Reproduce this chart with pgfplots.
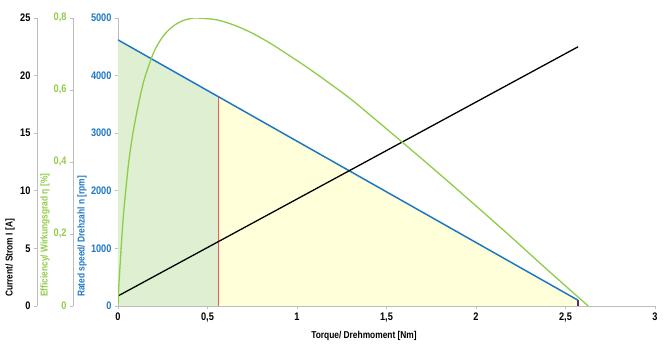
\documentclass[border=0pt]{standalone}
\usepackage{pgfplots}
\pgfplotsset{compat=1.18}
\usepackage{fontspec}
\setmainfont{Liberation Sans}[FakeStretch=0.84, Ligatures={NoCommon}]
\definecolor{spd}{HTML}{1E78C2}
\definecolor{effc}{HTML}{8FCC47}
\definecolor{axg}{HTML}{BDBDBD}
\definecolor{fillg}{HTML}{DFF0D2}
\definecolor{filly}{HTML}{FFFFDA}
\definecolor{redl}{HTML}{F05A50}
\definecolor{endl}{HTML}{5A2A6A}
\newcommand{\tickfont}{\fontsize{11}{13}\selectfont\bfseries}
\newcommand{\labfont}{\fontsize{10}{12}\selectfont\bfseries}
\pgfplotsset{
  /pgf/number format/assume math mode=true,
  /pgf/number format/use comma,
  /pgf/number format/1000 sep={},
  base/.style={scale only axis, width=537bp, height=288bp, anchor=origin, at={(0,0)}, xmin=0, xmax=3},
  yax/.style={scale only axis, width=1bp, height=288bp, anchor=origin, xmin=0, xmax=1,
    axis x line=none, axis y line*=left, axis line style={-, axg, line width=1pt},
    tick align=outside, major tick length=3bp, tick style={axg, line width=0.8pt},
    yticklabel style={font=\tickfont}},
}
\begin{document}
\begin{tikzpicture}
\path[use as bounding box] (-118bp,-41bp) rectangle (549bp,306bp);
% current axis (dummy)
\begin{axis}[yax, at={(-81bp,0)}, ymin=0, ymax=25, ytick={0,5,...,25}, yticklabel style={text=black}]
\end{axis}
% efficiency axis (dummy)
\begin{axis}[yax, at={(-45bp,0)}, ymin=0, ymax=0.8, ytick={0,0.2,0.4,0.6,0.8},
  yticklabel style={text=effc, /pgf/number format/fixed, /pgf/number format/precision=1}]
\end{axis}
% main axis: speed
\begin{axis}[base, ymin=0, ymax=5000,
  axis x line*=bottom, axis y line*=left, axis line style={-, axg, line width=1pt},
  xtick={0,0.5,1,1.5,2,2.5,3}, ytick={0,1000,...,5000},
  tick align=outside, major tick length=3bp, tick style={axg, line width=0.8pt},
  xticklabel style={font=\tickfont, text=black},
  yticklabel style={font=\tickfont, text=spd}]
\addplot[fill=fillg, draw=none] coordinates {(0,4620) (0.56,3635)} \closedcycle;
\addplot[fill=filly, draw=none] coordinates {(0.56,3635) (2.57,100)} \closedcycle;
\addplot[redl, line width=1bp] coordinates {(0.56,0) (0.56,3635)};
\addplot[endl, line width=1.2bp] coordinates {(2.57,0) (2.57,100)};
\addplot[spd, line width=1.5bp] coordinates {(0,4620) (2.57,100)};
\end{axis}
% current data
\begin{axis}[base, hide axis, ymin=0, ymax=25]
\addplot[black, line width=1.3bp] coordinates {(0,0.87) (2.57,22.5)};
\end{axis}
% efficiency data
\begin{axis}[base, hide axis, ymin=0, ymax=0.8]
\addplot[effc, line width=1.3bp, smooth, tension=0.5] coordinates {
(0,0) (0.005,0.06) (0.01,0.1) (0.02,0.18) (0.03,0.25) (0.045,0.33) (0.06,0.4)
(0.08,0.47) (0.1,0.525) (0.125,0.585) (0.15,0.635) (0.2,0.705) (0.25,0.748)
(0.3,0.774) (0.35,0.79) (0.4,0.798) (0.44,0.8) (0.55,0.795) (0.65,0.78)
(0.75,0.758) (0.85,0.73) (0.95,0.698) (1.05,0.665) (1.15,0.63) (1.3,0.575)
(1.45,0.513) (1.6,0.45) (1.8,0.365) (2.0,0.278) (2.2,0.19) (2.4,0.1) (2.627,0)};
\end{axis}
\node[rotate=90, anchor=west, inner sep=0, font=\labfont, text=black] at (-108bp,9bp) {Current/ Strom I [A]};
\node[rotate=90, anchor=west, inner sep=0, font=\labfont, text=effc] at (-73bp,9bp) {Efficiency/ Wirkungsgrad η [\%]};
\node[rotate=90, anchor=west, inner sep=0, font=\labfont, text=spd] at (-36bp,9bp) {Rated speed/ Drehzahl n [rpm]};
\node[font=\labfont, text=black] at (246bp,-30bp) {Torque/ Drehmoment [Nm]};
\end{tikzpicture}
\end{document}
